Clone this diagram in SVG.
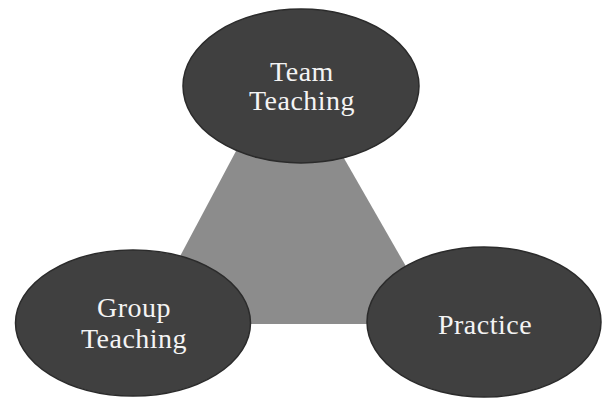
<svg xmlns="http://www.w3.org/2000/svg" width="606" height="398" viewBox="0 0 606 398">
<style>
.node{fill:#404040;stroke:#2b2b2b;stroke-width:1.5}
.lbl{font-family:"Liberation Serif","Times New Roman",serif;font-size:28px;fill:#f4f4f4;text-anchor:middle;letter-spacing:0.5px}
.tri{fill:#8c8c8c}
</style>
<rect width="606" height="398" fill="#ffffff"/>
<g id="connectors">
<polygon class="tri" points="286,57 144,324 439,324"/>
</g>
<g id="team-teaching">
<ellipse class="node" cx="301" cy="86" rx="118" ry="77"/>
<text class="lbl" x="302" y="81">Team</text>
<text class="lbl" x="302" y="110">Teaching</text>
</g>
<g id="group-teaching">
<ellipse class="node" cx="133" cy="323" rx="117.5" ry="73"/>
<text class="lbl" x="134" y="317">Group</text>
<text class="lbl" x="134" y="348">Teaching</text>
</g>
<g id="practice">
<ellipse class="node" cx="484" cy="322" rx="117" ry="75"/>
<text class="lbl" x="485" y="334">Practice</text>
</g>
</svg>
